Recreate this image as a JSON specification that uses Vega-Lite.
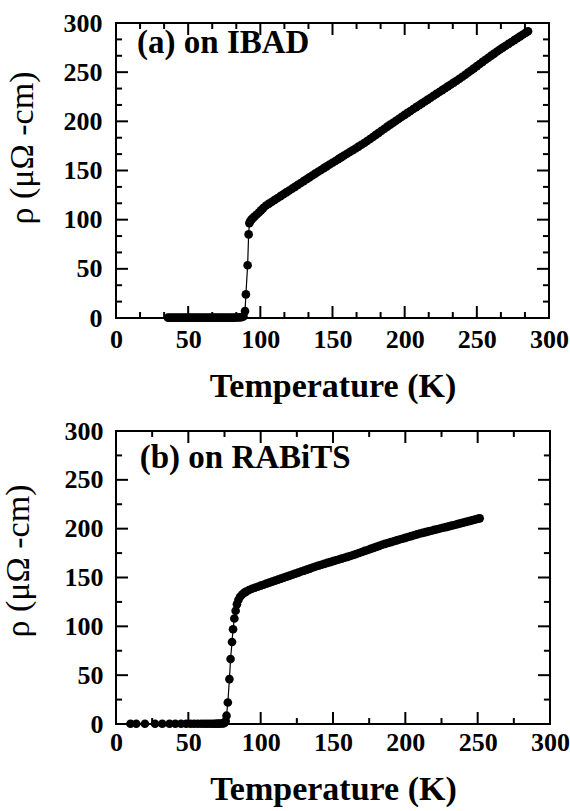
{
 "$schema": "https://vega.github.io/schema/vega-lite/v6.json",
 "background": "white",
 "padding": {"left": 0, "top": 9, "right": 0, "bottom": 0},
 "datasets": {
  "majA": [{"v":50},{"v":100},{"v":150},{"v":200},{"v":250}],
  "minA": [{"v":16.6667},{"v":33.3333},{"v":66.6667},{"v":83.3333},{"v":116.6667},{"v":133.3333},{"v":166.6667},{"v":183.3333},{"v":216.6667},{"v":233.3333},{"v":266.6667},{"v":283.3333}],
  "majB": [{"v":50},{"v":100},{"v":150},{"v":200},{"v":250}],
  "minB": [{"v":25},{"v":75},{"v":125},{"v":175},{"v":225},{"v":275}],
  "ibad": [
   {"T":36,"rho":0.3},{"T":37.5,"rho":0.3},{"T":39,"rho":0.4},{"T":40.5,"rho":0.3},{"T":42,"rho":0.3},{"T":43.5,"rho":0.4},{"T":45,"rho":0.3},{"T":46.5,"rho":0.3},{"T":48,"rho":0.4},{"T":49.5,"rho":0.3},{"T":51,"rho":0.3},{"T":52.5,"rho":0.4},{"T":54,"rho":0.3},{"T":55.5,"rho":0.3},{"T":57,"rho":0.4},{"T":58.5,"rho":0.3},{"T":60,"rho":0.3},{"T":61.5,"rho":0.4},{"T":63,"rho":0.3},{"T":64.5,"rho":0.3},{"T":66,"rho":0.4},{"T":67.5,"rho":0.3},{"T":69,"rho":0.3},{"T":70.5,"rho":0.4},{"T":72,"rho":0.3},{"T":73.5,"rho":0.3},{"T":75,"rho":0.4},{"T":76.5,"rho":0.3},{"T":78,"rho":0.3},{"T":79.5,"rho":0.4},{"T":81,"rho":0.3},{"T":82.5,"rho":0.4},{"T":84,"rho":0.5},{"T":85.5,"rho":0.6},{"T":87,"rho":0.8},{"T":88.3,"rho":1.5},
   {"T":89.4,"rho":7},{"T":90,"rho":24},{"T":91.2,"rho":53.6},{"T":91.9,"rho":85},{"T":92.4,"rho":96.5},
   {"T":93,"rho":98.5},{"T":94,"rho":100.3},{"T":95,"rho":101.8},{"T":96,"rho":103.2},{"T":97.5,"rho":105.2},{"T":99,"rho":107.3},{"T":100.5,"rho":109.5},{"T":102,"rho":111.8},
   {"T":104,"rho":114.4},{"T":106,"rho":116.3},{"T":108,"rho":118.2},{"T":110,"rho":120.1},{"T":112,"rho":122.0},{"T":114,"rho":123.9},{"T":116,"rho":125.8},{"T":118,"rho":127.7},{"T":120,"rho":129.6},{"T":122,"rho":131.5},{"T":124,"rho":133.4},{"T":126,"rho":135.4},{"T":128,"rho":137.3},{"T":130,"rho":139.2},{"T":132,"rho":141.1},{"T":134,"rho":143.0},{"T":136,"rho":144.9},{"T":138,"rho":146.8},{"T":140,"rho":148.7},{"T":142,"rho":150.5},{"T":144,"rho":152.4},{"T":146,"rho":154.2},{"T":148,"rho":156.1},{"T":150,"rho":157.9},{"T":152,"rho":159.7},{"T":154,"rho":161.5},{"T":156,"rho":163.3},{"T":158,"rho":165.2},{"T":160,"rho":167.0},{"T":162,"rho":168.8},{"T":164,"rho":170.6},{"T":166,"rho":172.4},{"T":168,"rho":174.3},{"T":170,"rho":176.2},{"T":172,"rho":178.0},{"T":174,"rho":180.0},{"T":176,"rho":182.0},{"T":178,"rho":184.1},{"T":180,"rho":186.2},{"T":182,"rho":188.3},{"T":184,"rho":190.4},{"T":186,"rho":192.5},{"T":188,"rho":194.6},{"T":190,"rho":196.6},{"T":192,"rho":198.6},{"T":194,"rho":200.6},{"T":196,"rho":202.6},{"T":198,"rho":204.6},{"T":200,"rho":206.6},{"T":202,"rho":208.6},{"T":204,"rho":210.5},{"T":206,"rho":212.5},{"T":208,"rho":214.4},{"T":210,"rho":216.4},{"T":212,"rho":218.3},{"T":214,"rho":220.2},{"T":216,"rho":222.1},{"T":218,"rho":224.0},{"T":220,"rho":226.0},{"T":222,"rho":227.9},{"T":224,"rho":229.8},{"T":226,"rho":231.7},{"T":228,"rho":233.6},{"T":230,"rho":235.5},{"T":232,"rho":237.5},{"T":234,"rho":239.4},{"T":236,"rho":241.3},{"T":238,"rho":243.3},{"T":240,"rho":245.3},{"T":242,"rho":247.4},{"T":244,"rho":249.6},{"T":246,"rho":251.7},{"T":248,"rho":253.9},{"T":250,"rho":256.1},{"T":252,"rho":258.3},{"T":254,"rho":260.5},{"T":256,"rho":262.6},{"T":258,"rho":264.7},{"T":260,"rho":266.8},{"T":262,"rho":268.9},{"T":264,"rho":271.0},{"T":266,"rho":273.0},{"T":268,"rho":275.0},{"T":270,"rho":276.9},{"T":272,"rho":278.8},{"T":274,"rho":280.7},{"T":276,"rho":282.6},{"T":278,"rho":284.5},{"T":280,"rho":286.4},{"T":282,"rho":288.3},{"T":284,"rho":290.2},{"T":285.5,"rho":291.6}
  ],
  "rabits": [
   {"T":10,"rho":0.3},{"T":14,"rho":0.3},{"T":20,"rho":0.3},{"T":27,"rho":0.3},{"T":32,"rho":0.3},{"T":37,"rho":0.3},{"T":41,"rho":0.3},{"T":45,"rho":0.3},{"T":48.5,"rho":0.3},{"T":51.5,"rho":0.3},{"T":54,"rho":0.3},{"T":56.5,"rho":0.3},{"T":59,"rho":0.3},{"T":61,"rho":0.3},{"T":63,"rho":0.3},{"T":65,"rho":0.3},{"T":67,"rho":0.3},{"T":68.5,"rho":0.3},{"T":70,"rho":0.4},{"T":71.5,"rho":0.4},{"T":73,"rho":0.5},{"T":74,"rho":0.7},{"T":75,"rho":1.2},
   {"T":75.8,"rho":3},{"T":76.4,"rho":8.5},{"T":77.3,"rho":22},{"T":78.4,"rho":46},{"T":79.2,"rho":66.5},{"T":80.2,"rho":84},{"T":80.9,"rho":97},{"T":81.8,"rho":108},{"T":82.7,"rho":116},{"T":83.6,"rho":122.5},{"T":84.6,"rho":127},{"T":85.8,"rho":130.3},{"T":87.2,"rho":132.6},{"T":88.6,"rho":134.3},
   {"T":90,"rho":135.5},{"T":92,"rho":137.2},{"T":94,"rho":138.5},{"T":96,"rho":139.5},{"T":98,"rho":140.5},{"T":100,"rho":141.6},{"T":102,"rho":142.6},{"T":104,"rho":143.7},{"T":106,"rho":144.7},{"T":108,"rho":145.8},{"T":110,"rho":146.8},{"T":112,"rho":147.8},{"T":114,"rho":148.9},{"T":116,"rho":149.9},{"T":118,"rho":150.9},{"T":120,"rho":151.9},{"T":122,"rho":153.0},{"T":124,"rho":154.0},{"T":126,"rho":155.0},{"T":128,"rho":156.1},{"T":130,"rho":157.1},{"T":132,"rho":158.1},{"T":134,"rho":159.1},{"T":136,"rho":160.2},{"T":138,"rho":161.2},{"T":140,"rho":162.2},{"T":142,"rho":163.1},{"T":144,"rho":164.0},{"T":146,"rho":164.9},{"T":148,"rho":165.8},{"T":150,"rho":166.7},{"T":152,"rho":167.6},{"T":154,"rho":168.4},{"T":156,"rho":169.3},{"T":158,"rho":170.2},{"T":160,"rho":171.1},{"T":162,"rho":172.0},{"T":164,"rho":173.0},{"T":166,"rho":174.0},{"T":168,"rho":175.1},{"T":170,"rho":176.1},{"T":172,"rho":177.2},{"T":174,"rho":178.2},{"T":176,"rho":179.3},{"T":178,"rho":180.3},{"T":180,"rho":181.4},{"T":182,"rho":182.4},{"T":184,"rho":183.5},{"T":186,"rho":184.4},{"T":188,"rho":185.3},{"T":190,"rho":186.2},{"T":192,"rho":187.1},{"T":194,"rho":188.0},{"T":196,"rho":188.9},{"T":198,"rho":189.7},{"T":200,"rho":190.6},{"T":202,"rho":191.5},{"T":204,"rho":192.4},{"T":206,"rho":193.3},{"T":208,"rho":194.2},{"T":210,"rho":195.0},{"T":212,"rho":195.7},{"T":214,"rho":196.5},{"T":216,"rho":197.2},{"T":218,"rho":197.9},{"T":220,"rho":198.7},{"T":222,"rho":199.4},{"T":224,"rho":200.2},{"T":226,"rho":200.9},{"T":228,"rho":201.6},{"T":230,"rho":202.4},{"T":232,"rho":203.1},{"T":234,"rho":203.8},{"T":236,"rho":204.6},{"T":238,"rho":205.4},{"T":240,"rho":206.2},{"T":242,"rho":206.9},{"T":244,"rho":207.7},{"T":246,"rho":208.5},{"T":248,"rho":209.3},{"T":250,"rho":210.1},{"T":251.4,"rho":210.6}
  ]
 },
 "columns": 1,
 "align": "none",
 "spacing": 13,
 "concat": [
  {
   "width": 433, "height": 295,
   "layer": [
    {
     "data": {"name": "ibad"},
     "mark": {"type": "line", "color": "black", "strokeWidth": 1.2},
     "encoding": {
      "x": {"field": "T", "type": "quantitative", "scale": {"domain": [0, 300], "nice": false},
       "axis": {"orient": "bottom", "title": "Temperature (K)", "values": [0,50,100,150,200,250,300],
        "ticks": false, "tickSize": 0, "labelPadding": 8,
        "titleFontWeight": "bold", "titleFontSize": 34, "titleBaseline": "alphabetic", "titleY": 78}},
      "y": {"field": "rho", "type": "quantitative", "scale": {"domain": [0, 300], "nice": false},
       "axis": {"orient": "left", "title": "ρ (μΩ -cm)", "values": [0,50,100,150,200,250,300],
        "ticks": false, "tickSize": 0, "labelPadding": 14,
        "titleFontWeight": "normal", "titleFontSize": 34, "titleBaseline": "alphabetic", "titleAngle": 270, "titleX": -84, "titleY": 124.5}}
     }
    },
    {"data": {"name": "majA"}, "mark": {"type": "rule", "color": "black", "strokeWidth": 2},
     "encoding": {"x": {"field": "v", "type": "quantitative"}, "y": {"datum": 0, "type": "quantitative"}, "y2": {"datum": 12.2}}},
    {"data": {"name": "majA"}, "mark": {"type": "rule", "color": "black", "strokeWidth": 2},
     "encoding": {"x": {"field": "v", "type": "quantitative"}, "y": {"datum": 300, "type": "quantitative"}, "y2": {"datum": 287.8}}},
    {"data": {"name": "majA"}, "mark": {"type": "rule", "color": "black", "strokeWidth": 2},
     "encoding": {"y": {"field": "v", "type": "quantitative"}, "x": {"datum": 0, "type": "quantitative"}, "x2": {"datum": 8.3}}},
    {"data": {"name": "majA"}, "mark": {"type": "rule", "color": "black", "strokeWidth": 2},
     "encoding": {"y": {"field": "v", "type": "quantitative"}, "x": {"datum": 300, "type": "quantitative"}, "x2": {"datum": 291.7}}},
    {"data": {"name": "minA"}, "mark": {"type": "rule", "color": "black", "strokeWidth": 2},
     "encoding": {"x": {"field": "v", "type": "quantitative"}, "y": {"datum": 0, "type": "quantitative"}, "y2": {"datum": 6.1}}},
    {"data": {"name": "minA"}, "mark": {"type": "rule", "color": "black", "strokeWidth": 2},
     "encoding": {"x": {"field": "v", "type": "quantitative"}, "y": {"datum": 300, "type": "quantitative"}, "y2": {"datum": 293.9}}},
    {"data": {"name": "minA"}, "mark": {"type": "rule", "color": "black", "strokeWidth": 2},
     "encoding": {"y": {"field": "v", "type": "quantitative"}, "x": {"datum": 0, "type": "quantitative"}, "x2": {"datum": 4.2}}},
    {"data": {"name": "minA"}, "mark": {"type": "rule", "color": "black", "strokeWidth": 2},
     "encoding": {"y": {"field": "v", "type": "quantitative"}, "x": {"datum": 300, "type": "quantitative"}, "x2": {"datum": 295.8}}},
    {
     "data": {"name": "ibad"},
     "mark": {"type": "circle", "color": "black", "size": 75, "opacity": 1},
     "encoding": {
      "x": {"field": "T", "type": "quantitative"},
      "y": {"field": "rho", "type": "quantitative"}
     }
    },
    {
     "data": {"values": [{"label": "(a) on IBAD"}]},
     "mark": {"type": "text", "align": "left", "baseline": "alphabetic", "font": "Liberation Serif", "fontWeight": "bold", "fontSize": 33, "color": "black"},
     "encoding": {
      "x": {"datum": 14.6, "type": "quantitative"},
      "y": {"datum": 269.5, "type": "quantitative"},
      "text": {"field": "label"}
     }
    }
   ]
  },
  {
   "width": 434, "height": 293,
   "layer": [
    {
     "data": {"name": "rabits"},
     "mark": {"type": "line", "color": "black", "strokeWidth": 1.2},
     "encoding": {
      "x": {"field": "T", "type": "quantitative", "scale": {"domain": [0, 300], "nice": false},
       "axis": {"orient": "bottom", "title": "Temperature (K)", "values": [0,50,100,150,200,250,300],
        "ticks": false, "tickSize": 0, "labelPadding": 5,
        "titleFontWeight": "bold", "titleFontSize": 34, "titleBaseline": "alphabetic", "titleY": 75.5}},
      "y": {"field": "rho", "type": "quantitative", "scale": {"domain": [0, 300], "nice": false},
       "axis": {"orient": "left", "title": "ρ (μΩ -cm)", "values": [0,50,100,150,200,250,300],
        "ticks": false, "tickSize": 0, "labelPadding": 13,
        "titleFontWeight": "normal", "titleFontSize": 34, "titleBaseline": "alphabetic", "titleAngle": 270, "titleX": -88, "titleY": 129.5}}
     }
    },
    {"data": {"name": "majB"}, "mark": {"type": "rule", "color": "black", "strokeWidth": 2},
     "encoding": {"x": {"field": "v", "type": "quantitative"}, "y": {"datum": 0, "type": "quantitative"}, "y2": {"datum": 12.3}}},
    {"data": {"name": "majB"}, "mark": {"type": "rule", "color": "black", "strokeWidth": 2},
     "encoding": {"x": {"field": "v", "type": "quantitative"}, "y": {"datum": 300, "type": "quantitative"}, "y2": {"datum": 287.7}}},
    {"data": {"name": "majB"}, "mark": {"type": "rule", "color": "black", "strokeWidth": 2},
     "encoding": {"y": {"field": "v", "type": "quantitative"}, "x": {"datum": 0, "type": "quantitative"}, "x2": {"datum": 8.3}}},
    {"data": {"name": "majB"}, "mark": {"type": "rule", "color": "black", "strokeWidth": 2},
     "encoding": {"y": {"field": "v", "type": "quantitative"}, "x": {"datum": 300, "type": "quantitative"}, "x2": {"datum": 291.7}}},
    {"data": {"name": "minB"}, "mark": {"type": "rule", "color": "black", "strokeWidth": 2},
     "encoding": {"x": {"field": "v", "type": "quantitative"}, "y": {"datum": 0, "type": "quantitative"}, "y2": {"datum": 6.1}}},
    {"data": {"name": "minB"}, "mark": {"type": "rule", "color": "black", "strokeWidth": 2},
     "encoding": {"x": {"field": "v", "type": "quantitative"}, "y": {"datum": 300, "type": "quantitative"}, "y2": {"datum": 293.9}}},
    {"data": {"name": "minB"}, "mark": {"type": "rule", "color": "black", "strokeWidth": 2},
     "encoding": {"y": {"field": "v", "type": "quantitative"}, "x": {"datum": 0, "type": "quantitative"}, "x2": {"datum": 4.2}}},
    {"data": {"name": "minB"}, "mark": {"type": "rule", "color": "black", "strokeWidth": 2},
     "encoding": {"y": {"field": "v", "type": "quantitative"}, "x": {"datum": 300, "type": "quantitative"}, "x2": {"datum": 295.8}}},
    {
     "data": {"name": "rabits"},
     "mark": {"type": "circle", "color": "black", "size": 75, "opacity": 1},
     "encoding": {
      "x": {"field": "T", "type": "quantitative"},
      "y": {"field": "rho", "type": "quantitative"}
     }
    },
    {
     "data": {"values": [{"label": "(b) on RABiTS"}]},
     "mark": {"type": "text", "align": "left", "baseline": "alphabetic", "font": "Liberation Serif", "fontWeight": "bold", "fontSize": 33, "color": "black"},
     "encoding": {
      "x": {"datum": 16.4, "type": "quantitative"},
      "y": {"datum": 261.8, "type": "quantitative"},
      "text": {"field": "label"}
     }
    }
   ]
  }
 ],
 "config": {
  "view": {"stroke": "black", "strokeWidth": 2},
  "axis": {"domain": false, "grid": false,
   "labelFont": "Liberation Serif", "labelFontWeight": "bold", "labelFontSize": 26, "labelColor": "black",
   "labelFlush": false, "labelOverlap": false, "titleFont": "Liberation Serif", "titleColor": "black"}
 }
}
